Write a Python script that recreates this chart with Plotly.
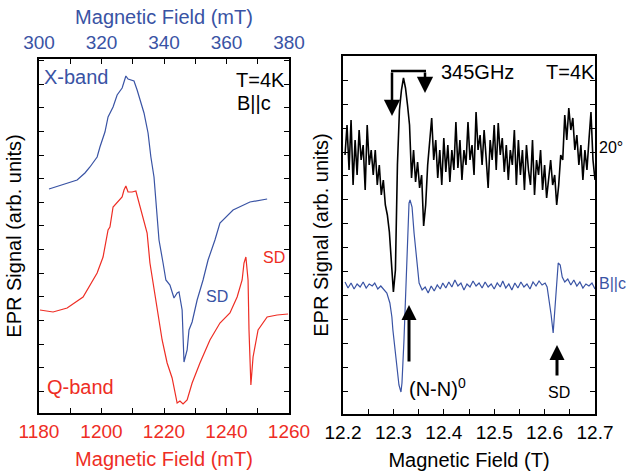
import plotly.graph_objects as go

W, H = 628, 475
BLUE = "#3953a4"
RED = "#ee2d24"
FONT = "Liberation Sans, Arial, sans-serif"

# ---------------- left panel data ----------------
# X-band (top axis, mT)
xband_field = [303.2, 309.0, 312.2, 314.7, 316.3, 318.6, 319.5, 321.1, 322.1, 323.7, 325.0, 326.6,
               327.2, 327.8, 328.5, 329.8, 330.4, 331.4, 332.3, 333.6, 334.9, 335.8, 336.8, 337.8,
               338.4, 339.7, 340.6, 341.9, 343.2, 344.2, 344.8, 345.8, 346.4, 347.4, 348.0, 349.0,
               350.6, 352.5, 354.1, 356.3, 357.9, 362.1, 367.5, 373.0]
xband_signal = [224, 230, 233, 240, 246, 256, 266, 281, 296, 306, 318, 325,
                330, 337, 334, 333, 332, 323, 313, 300, 280, 256, 236, 198,
                173, 150, 133, 128, 115, 120, 121, 103, 51, 63, 83, 91,
                113, 133, 153, 173, 190, 203, 211, 214]

# Q-band (bottom axis, mT)
qband_field = [1180.3, 1184.5, 1189.0, 1194.1, 1198.6, 1200.5, 1202.1, 1202.7, 1203.7, 1205.3, 1206.6,
               1207.2, 1207.8, 1208.5, 1209.8, 1211.0, 1212.0, 1213.0, 1213.6, 1214.6, 1215.5, 1216.5,
               1217.8, 1219.4, 1221.0, 1222.6, 1224.2, 1225.1, 1226.1, 1227.4, 1229.0, 1231.5, 1234.7,
               1237.9, 1241.1, 1243.4, 1245.0, 1245.6, 1246.2, 1246.9, 1247.2, 1247.8, 1248.5, 1250.1,
               1253.0, 1256.2, 1259.7]
qband_signal = [103, 101, 105, 116, 140, 156, 183, 186, 206, 211, 216,
                223, 227, 221, 221, 222, 210, 200, 193, 180, 150, 130,
                106, 73, 50, 35, 10, 12, 9, 13, 30, 50, 73,
                90, 100, 116, 133, 150, 156, 133, 83, 28, 56, 83,
                96, 98, 99]

qband_ticks = [1180, 1200, 1220, 1240, 1260]
xband_ticks = [300, 320, 340, 360, 380]

# ---------------- right panel data ----------------
hf_ticks = [12.2, 12.3, 12.4, 12.5, 12.6, 12.7]

# 20 degree spectrum (black)
deg20_field = [12.204, 12.208, 12.212, 12.216, 12.220, 12.224, 12.228, 12.232, 12.236, 12.240,
               12.244, 12.248, 12.252, 12.256, 12.260, 12.264, 12.268, 12.272, 12.276, 12.280,
               12.284, 12.288, 12.292, 12.296, 12.300, 12.304, 12.308, 12.312, 12.316, 12.320,
               12.324, 12.328, 12.332, 12.336, 12.340, 12.344, 12.348, 12.352, 12.356, 12.360,
               12.364, 12.368, 12.372, 12.376, 12.380, 12.384, 12.388, 12.392, 12.396, 12.400,
               12.404, 12.408, 12.412, 12.416, 12.420, 12.424, 12.428, 12.432, 12.436, 12.440,
               12.444, 12.448, 12.452, 12.456, 12.460, 12.464, 12.468, 12.472, 12.476, 12.480,
               12.484, 12.488, 12.492, 12.496, 12.500, 12.504, 12.508, 12.512, 12.516, 12.520,
               12.524, 12.528, 12.532, 12.536, 12.540, 12.544, 12.548, 12.552, 12.556, 12.560,
               12.564, 12.568, 12.572, 12.576, 12.580, 12.584, 12.588, 12.592, 12.596, 12.600,
               12.604, 12.608, 12.612, 12.616, 12.620, 12.624, 12.628, 12.632, 12.636, 12.640,
               12.644, 12.648, 12.652, 12.656, 12.660, 12.664, 12.668, 12.672, 12.676, 12.680,
               12.684, 12.688, 12.692, 12.696, 12.700]
deg20_signal = [259, 289, 244, 294, 229, 274, 239, 284, 254, 269,
                224, 289, 249, 264, 239, 264, 229, 249, 219, 234,
                209, 199, 182, 156, 122, 144, 249, 304, 324, 336,
                326, 309, 289, 236, 264, 232, 252, 226, 239, 188,
                209, 249, 274, 296, 254, 274, 236, 264, 229, 276,
                242, 269, 232, 264, 244, 292, 246, 274, 234, 264,
                249, 292, 254, 269, 239, 302, 264, 279, 249, 284,
                256, 226, 274, 254, 289, 244, 291, 259, 276, 242,
                269, 234, 264, 249, 284, 229, 274, 239, 264, 224,
                269, 244, 229, 274, 219, 254, 239, 264, 224, 249,
                216, 234, 254, 229, 239, 209, 229, 259, 254, 299,
                274, 306, 284, 296, 264, 279, 249, 269, 234, 264,
                244, 274, 302, 254, 234]

# B || c spectrum (blue)
bc_field = [12.204, 12.210, 12.216, 12.222, 12.228, 12.234, 12.240, 12.246, 12.252, 12.258,
            12.263, 12.269, 12.275, 12.281, 12.287, 12.293, 12.297, 12.299, 12.303, 12.307,
            12.311, 12.315, 12.317, 12.321, 12.325, 12.329, 12.331, 12.333, 12.337, 12.341,
            12.347, 12.351, 12.357, 12.363, 12.369, 12.375, 12.381, 12.387, 12.393, 12.398,
            12.404, 12.410, 12.416, 12.422, 12.428, 12.434, 12.440, 12.446, 12.452, 12.458,
            12.464, 12.470, 12.476, 12.482, 12.488, 12.494, 12.500, 12.506, 12.512, 12.517,
            12.523, 12.529, 12.535, 12.541, 12.547, 12.553, 12.559, 12.565, 12.571, 12.577,
            12.583, 12.589, 12.595, 12.601, 12.605, 12.609, 12.613, 12.617, 12.621, 12.625,
            12.627, 12.631, 12.635, 12.640, 12.646, 12.652, 12.658, 12.664, 12.670, 12.676,
            12.682, 12.688, 12.694, 12.700]
bc_signal = [132, 126, 131, 125, 130, 127, 132, 126, 130, 128,
             131, 125, 128, 124, 121, 111, 97, 84, 66, 51,
             29, 22, 31, 74, 124, 174, 211, 214, 207, 181,
             151, 131, 124, 127, 121, 128, 123, 129, 125, 131,
             126, 132, 127, 134, 128, 131, 124, 130, 127, 133,
             128, 131, 126, 132, 127, 130, 125, 131, 127, 133,
             126, 130, 124, 131, 126, 132, 127, 130, 125, 132,
             128, 133, 129, 131, 127, 114, 99, 81, 109, 141,
             151, 149, 137, 132, 135, 129, 134, 128, 132, 126,
             130, 128, 131, 125]


def px(x, y):
    return x / W, 1 - y / H


fig = go.Figure()
fig.add_trace(go.Scatter(x=qband_field, y=qband_signal, mode="lines",
                         line=dict(color=RED, width=1.2), xaxis="x", yaxis="y", showlegend=False))
fig.add_trace(go.Scatter(x=xband_field, y=xband_signal, mode="lines",
                         line=dict(color=BLUE, width=1.2), xaxis="x3", yaxis="y", showlegend=False))
fig.add_trace(go.Scatter(x=bc_field, y=bc_signal, mode="lines",
                         line=dict(color=BLUE, width=1.2), xaxis="x2", yaxis="y2", showlegend=False))
fig.add_trace(go.Scatter(x=deg20_field, y=deg20_signal, mode="lines",
                         line=dict(color="black", width=1.6), xaxis="x2", yaxis="y2", showlegend=False))

ax_common = dict(showgrid=False, zeroline=False, ticks="inside", ticklen=5, tickwidth=1,
                 tickcolor="black", showline=True, linecolor="black", linewidth=1.5,
                 automargin=False)

L_dom = [39 / W, 289 / W]
R_dom = [343 / W, 595 / W]

fig.update_layout(
    width=W, height=H, autosize=False,
    margin=dict(l=0, r=0, t=0, b=0),
    paper_bgcolor="white", plot_bgcolor="white",
    font=dict(family=FONT, color="black"),
    xaxis=dict(**ax_common, domain=L_dom, range=[1180, 1260], anchor="y", mirror=True,
               tickmode="array", tickvals=qband_ticks,
               minor=dict(dtick=10, tick0=1180, ticks="inside", ticklen=5, tickcolor="black"),
               tickfont=dict(size=19, color=RED),
               title=dict(text="Magnetic Field (mT)", font=dict(size=20, color=RED), standoff=11)),
    xaxis3=dict(showgrid=False, zeroline=False, ticks="inside", ticklen=5, tickwidth=1,
                tickcolor="black", showline=False, automargin=False,
                domain=L_dom, range=[300, 380], anchor="y", overlaying="x", side="top",
                tickmode="array", tickvals=xband_ticks,
                ticklabelposition="outside", ticklabelstandoff=5,
                minor=dict(dtick=10, tick0=300, ticks="inside", ticklen=5, tickcolor="black"),
                tickfont=dict(size=19, color=BLUE),
                title=dict(text="Magnetic Field (mT)", font=dict(size=20, color=BLUE), standoff=2)),
    yaxis=dict(**ax_common, domain=[1 - 413 / H, 1 - 59 / H], range=[0, 354], anchor="x",
               mirror="ticks", tick0=21.5, dtick=23.65, showticklabels=False,
               title=dict(text="EPR Signal (arb. units)", font=dict(size=20, color="black"), standoff=10)),
    xaxis2=dict(**ax_common, domain=R_dom, range=[12.2, 12.7], anchor="y2", mirror=True,
                tickmode="array", tickvals=hf_ticks,
                minor=dict(dtick=0.05, tick0=12.2, ticks="inside", ticklen=5, tickcolor="black"),
                tickfont=dict(size=19, color="black"),
                title=dict(text="Magnetic Field (T)", font=dict(size=20, color="black"), standoff=11)),
    yaxis2=dict(**ax_common, domain=[1 - 414 / H, 1 - 56 / H], range=[0, 358], anchor="x2",
                mirror="ticks", tick0=23, dtick=23.9, showticklabels=False,
                title=dict(text="EPR Signal (arb. units)", font=dict(size=20, color="black"), standoff=7)),
)


def label(text, x, y, size, color, xanchor="left"):
    X, Y = px(x, y)
    fig.add_annotation(text=text, x=X, y=Y, xref="paper", yref="paper", showarrow=False,
                       xanchor=xanchor, yanchor="middle", font=dict(size=size, color=color, family=FONT))


label("X-band", 42, 77, 20, BLUE)
label("T=4K", 287, 80, 20, "black", "right")
label("B||c", 235, 103, 20, "black")
label("Q-band", 45, 387, 20, RED)
label("SD", 261, 257, 16, RED)
label("SD", 204, 296, 16, BLUE)
label("345GHz", 439, 72, 20, "black")
label("T=4K", 597, 72, 20, "black", "right")
label("20°", 597, 147, 16, "black")
label("B||c", 597, 283, 16, BLUE)
label("(N-N)<sup>0</sup>", 407, 387, 20, "black")
label("SD", 546, 392, 16, "black")


def arrow(x, y_tip, y_tail, width, size):
    X, Y = px(x, y_tip)
    fig.add_annotation(text="", x=X, y=Y, xref="paper", yref="paper", showarrow=True,
                       ax=0, ay=y_tail - y_tip, axref="pixel", ayref="pixel",
                       arrowhead=2, arrowsize=size, arrowwidth=width, arrowcolor="black",
                       standoff=0, startstandoff=0)


arrow(409, 305, 363, 3, 1.0)
arrow(557, 345, 377, 3, 1.0)
arrow(392, 116, 71, 2.5, 1.3)
arrow(425, 93, 71, 2.5, 1.3)
x0, y0 = px(391, 71)
x1, y1 = px(426, 71)
fig.add_shape(type="line", x0=x0, y0=y0, x1=x1, y1=y1, xref="paper", yref="paper",
              line=dict(color="black", width=2.5))

fig.write_html("out.html")
